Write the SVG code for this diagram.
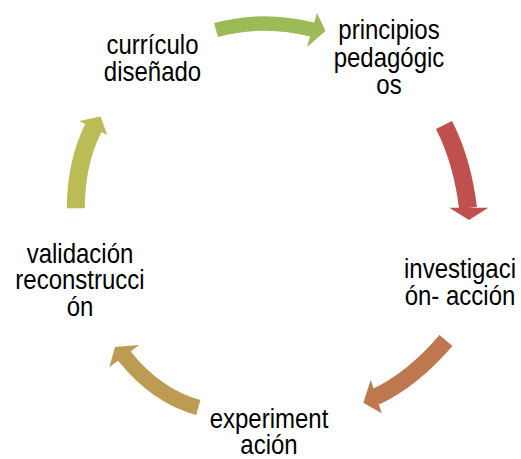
<svg xmlns="http://www.w3.org/2000/svg" width="521" height="459" viewBox="0 0 521 459">
<style>
.lbl{font-family:"Liberation Sans",Arial,sans-serif;font-size:24px;fill:#000;text-anchor:middle}
.body{fill:none;stroke-linecap:butt}
</style>
<rect width="521" height="459" fill="#fff"/>
<g id="connectors">
  <g id="arrow1" fill="#9BBB59" stroke="#9BBB59">
    <path class="body" d="M216,30 Q264,17 313,29.8" stroke-width="14.5"/>
    <polygon points="317,13 325.5,31 307,47" stroke="none"/>
  </g>
  <g id="arrow2" fill="#C0504D" stroke="#C0504D">
    <path class="body" d="M444,125 Q462.5,161.4 468,208" stroke-width="18"/>
    <polygon points="449.3,207.8 488.3,207.8 469,220" stroke="none"/>
  </g>
  <g id="arrow3" fill="#BF7750" stroke="#BF7750">
    <path class="body" d="M446,340.5 Q412,380 375.5,396.9" stroke-width="17"/>
    <polygon points="370.7,380 381.7,413.3 363.3,402.7" stroke="none"/>
  </g>
  <g id="arrow4" fill="#BD9B53" stroke="#BD9B53">
    <path class="body" d="M198.3,407.5 Q156.2,396 124,355.6" stroke-width="15.5"/>
    <polygon points="139.3,345 109.3,367.3 115,347" stroke="none"/>
  </g>
  <g id="arrow5" fill="#BBBC56" stroke="#BBBC56">
    <path class="body" d="M75.8,208.3 Q75.8,163 93.6,127.4" stroke-width="18"/>
    <polygon points="79.3,121 107.3,135 100.5,116.5" stroke="none"/>
  </g>
</g>
<g id="node-curriculo">
  <text class="lbl" transform="translate(152.5,54) scale(1,1.13)">currículo</text>
  <text class="lbl" transform="translate(152.5,81) scale(1,1.13)">diseñado</text>
</g>
<g id="node-principios">
  <text class="lbl" transform="translate(389,39) scale(1,1.13)">principios</text>
  <text class="lbl" transform="translate(389,66.5) scale(1,1.13)">pedagógic</text>
  <text class="lbl" transform="translate(389,94) scale(1,1.13)">os</text>
</g>
<g id="node-investigacion">
  <text class="lbl" transform="translate(460,278) scale(1,1.13)">investigaci</text>
  <text class="lbl" transform="translate(460,305) scale(1,1.13)">ón- acción</text>
</g>
<g id="node-experimentacion">
  <text class="lbl" transform="translate(269,427.5) scale(1,1.13)">experiment</text>
  <text class="lbl" transform="translate(269,454) scale(1,1.13)">ación</text>
</g>
<g id="node-validacion">
  <text class="lbl" transform="translate(80,262.5) scale(1,1.13)">validación</text>
  <text class="lbl" transform="translate(80,289) scale(1,1.13)">reconstrucci</text>
  <text class="lbl" transform="translate(80,315.5) scale(1,1.13)">ón</text>
</g>
</svg>
